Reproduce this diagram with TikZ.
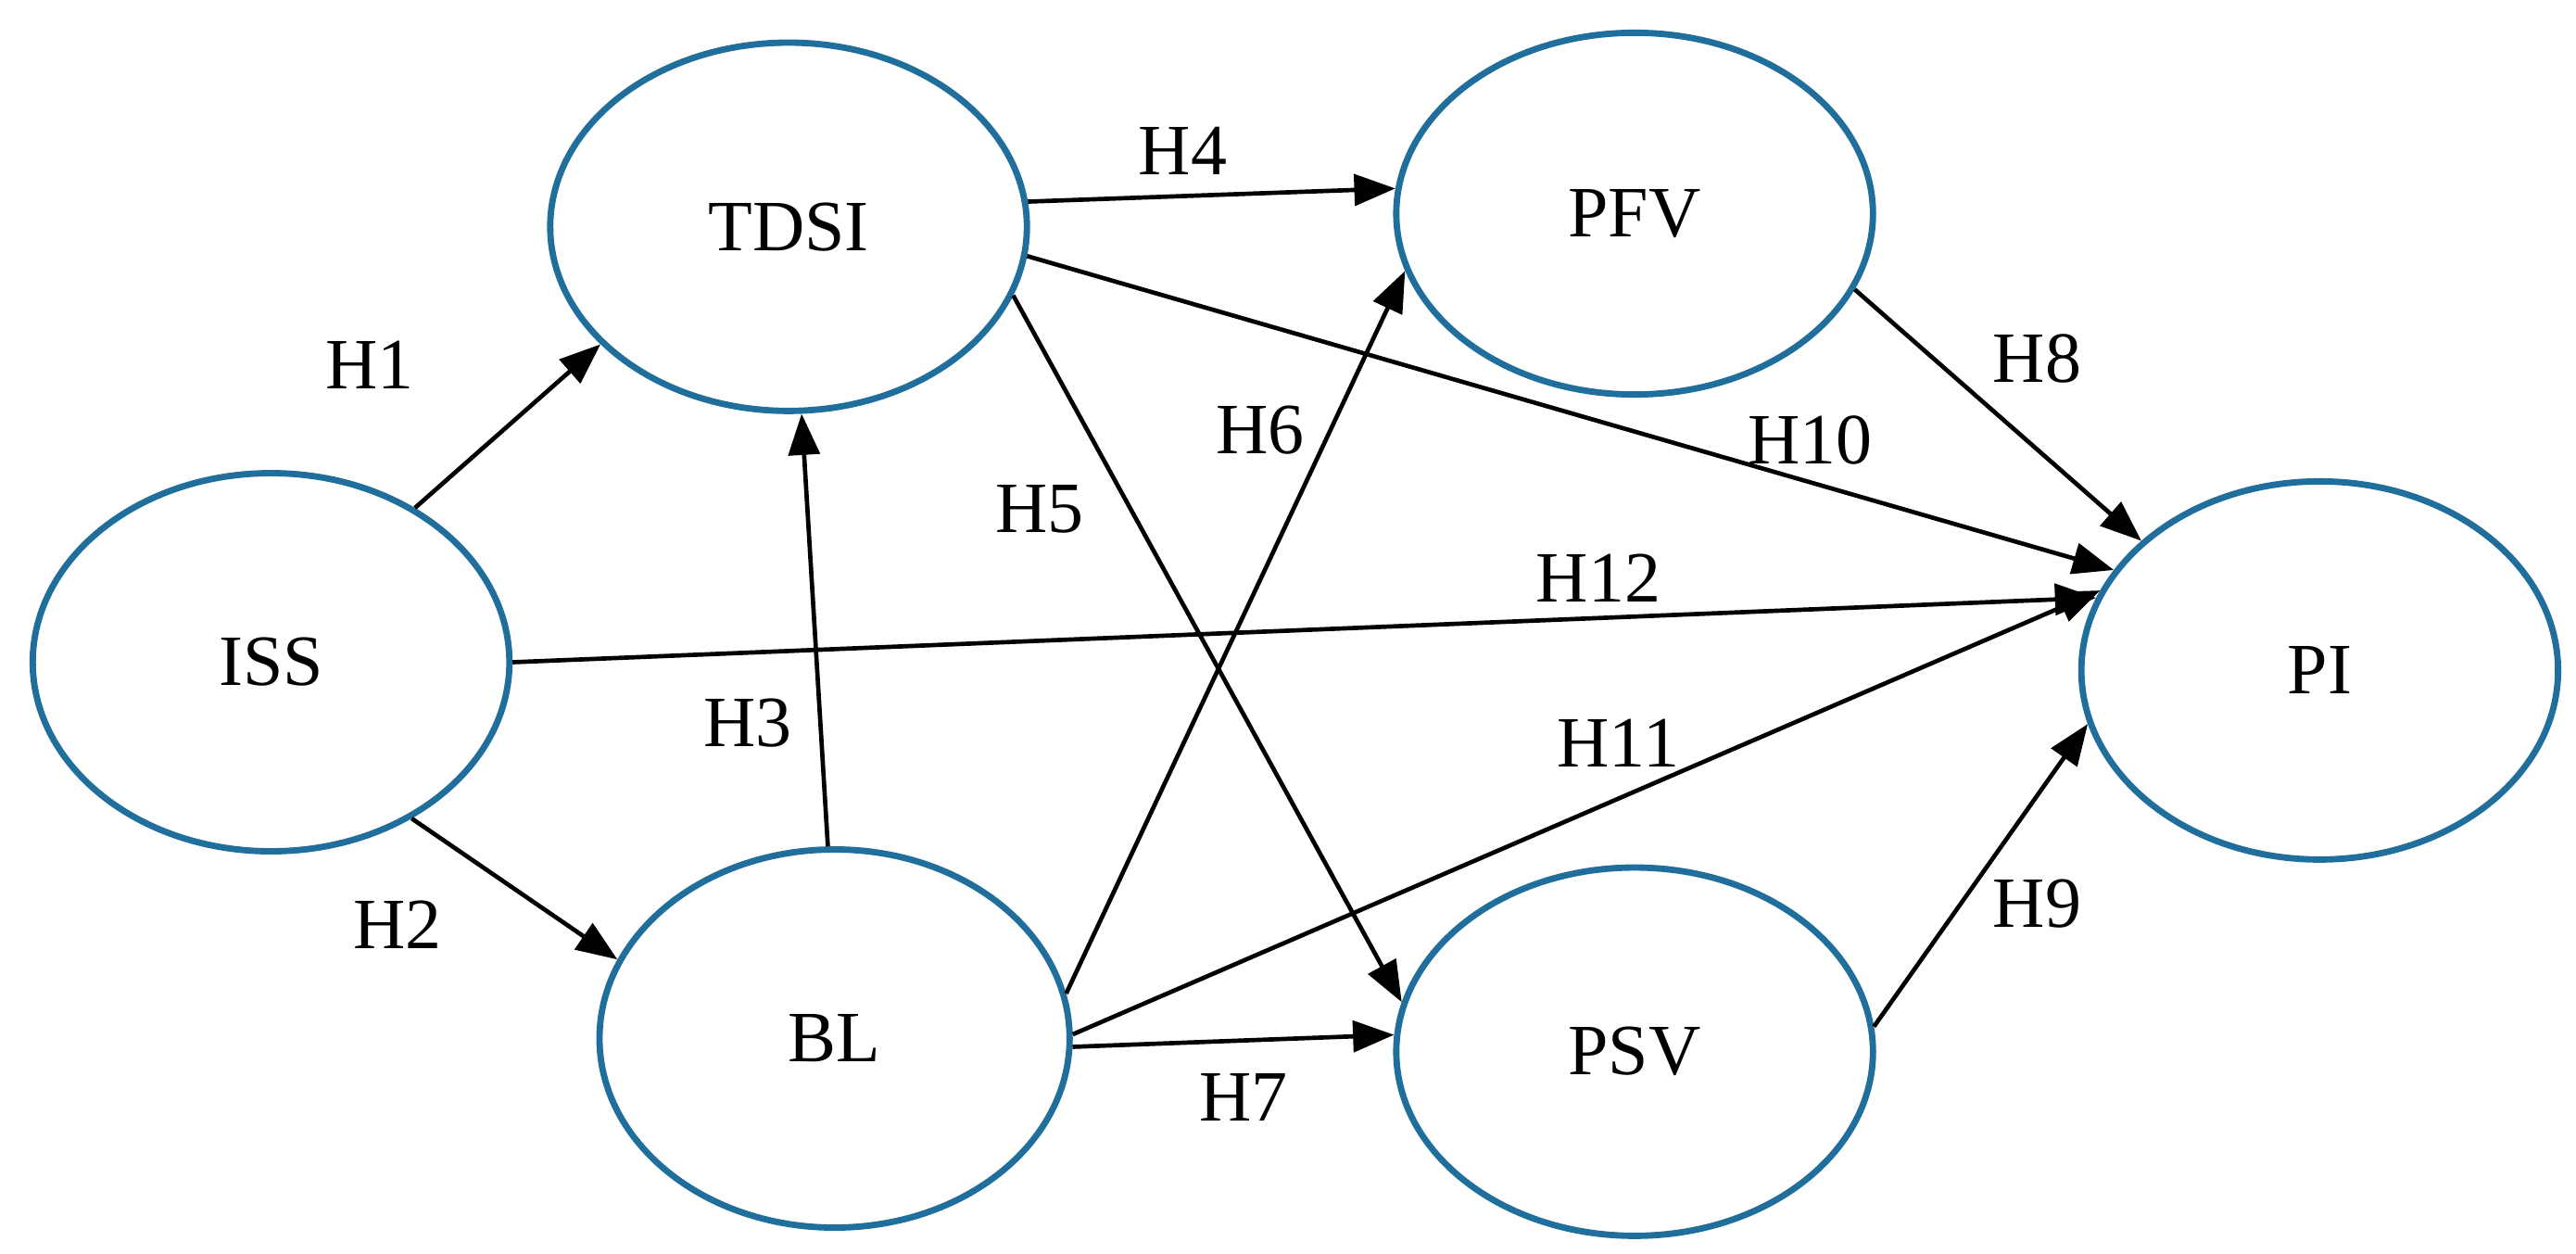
\documentclass[tikz,border=0pt]{standalone}
\usepackage{fontspec}
\setmainfont{Liberation Serif}
\usetikzlibrary{shapes.geometric,arrows.meta}
\definecolor{eb}{HTML}{1F6E9C}
\begin{document}
\begin{tikzpicture}[x=0.01cm,y=-0.01cm,
 el/.style={ellipse,draw=eb,line width=1.1pt,inner sep=0pt,font=\fontsize{12.5}{14}\selectfont},
 ar/.style={-{Triangle[length=0.25cm,width=0.19cm]},line width=0.75pt},
 lb/.style={font=\fontsize{12.5}{14}\selectfont}]
\useasboundingbox (0,0) rectangle (1568,763);
\node[el,minimum width=2.9cm,minimum height=2.24cm] (TDSI) at (480,138) {TDSI};
\node[el,minimum width=2.9cm,minimum height=2.2cm] (PFV) at (995,130) {PFV};
\node[el,minimum width=2.9cm,minimum height=2.3cm] (ISS) at (165,403) {ISS};
\node[el,minimum width=2.9cm,minimum height=2.3cm] (PI) at (1412,408) {PI};
\node[el,minimum width=2.86cm,minimum height=2.3cm] (BL) at (508,632) {BL};
\node[el,minimum width=2.9cm,minimum height=2.24cm] (PSV) at (995,640) {PSV};
\draw[ar] (ISS.47) -- (TDSI.212);
\draw[ar] (ISS.-48) -- (BL.160);
\draw[ar] (BL.92) -- (TDSI.274);
\draw[ar] (TDSI.6) -- (PFV.174);
\draw[ar] (TDSI.-7) -- (PI.154);
\draw[ar] (TDSI.-17) -- (PSV.168);
\draw[ar] (BL.11) -- (PFV.194);
\draw[ar] (BL.1.6) -- (PI.160);
\draw[ar] (BL.-2) -- (PSV.176);
\draw[ar] (ISS.0) -- (PI.162);
\draw[ar] (PFV.-19) -- (PI.144);
\draw[ar] (PSV.6) -- (PI.193);
\node[lb] (h1) at (225,222) {H1};
\node[lb] (h2) at (242,563) {H2};
\node[lb] (h3) at (455,440) {H3};
\node[lb] (h4) at (720,92) {H4};
\node[lb] (h5) at (633,310) {H5};
\node[lb] (h6) at (767,262) {H6};
\node[lb] (h7) at (757,668) {H7};
\node[lb] (h8) at (1240,218) {H8};
\node[lb] (h9) at (1240,550) {H9};
\node[lb] (h10) at (1102,268) {H10};
\node[lb] (h11) at (985,452) {H11};
\node[lb] (h12) at (973,352) {H12};
\end{tikzpicture}
\end{document}
